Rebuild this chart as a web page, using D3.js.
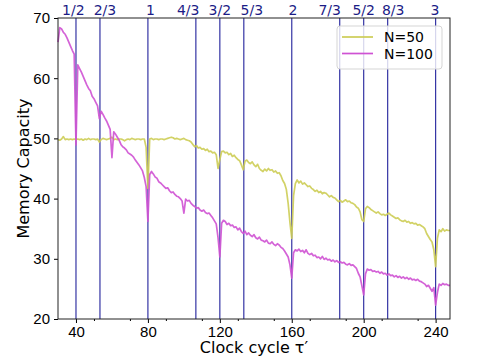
<!DOCTYPE html>
<html lang="en">
<head>
<meta charset="UTF-8">
<title>Memory Capacity vs Clock cycle</title>
<style>
    body { margin: 0; background: #fff; }
    svg { display: block; font-family: "DejaVu Sans", sans-serif; }
</style>
<script src="https://d3js.org/d3.v7.min.js"></script>
</head>
<body>
<div id="chart"></div>
<script>
// clock cycles 30..248, one value per cycle
const tau = d3.range(30, 249);

const capN100 = [
    66.0, 68.4, 68.2, 67.6, 67.3, 66.7, 66.0, 65.3, 64.6, 64.0,
    48.9, 62.2, 61.6, 61.0, 60.3, 59.6, 58.9, 58.3, 57.9, 57.0,
    56.6, 56.0, 55.4, 53.3, 54.5, 54.0, 53.4, 52.9, 52.2, 51.5,
    46.8, 51.1, 50.7, 50.2, 49.7, 49.0, 48.6, 48.4, 48.1, 47.6,
    47.4, 47.2, 46.9, 46.4, 46.0, 45.6, 45.1, 44.6, 43.5, 42.0,
    36.2, 44.0, 44.5, 44.1, 43.6, 43.4, 42.8, 42.6, 42.3, 42.0,
    41.7, 41.8, 41.3, 41.0, 41.1, 40.7, 40.4, 40.3, 40.0, 39.6,
    37.6, 39.9, 39.6, 39.7, 39.2, 38.9, 38.7, 38.4, 38.5, 38.1,
    37.9, 38.1, 37.7, 37.5, 37.6, 37.2, 36.8, 36.3, 35.8, 33.5,
    30.3, 35.9, 36.4, 36.2, 35.7, 35.9, 35.5, 35.6, 35.2, 35.3,
    34.8, 35.1, 34.5, 34.2, 34.6, 34.0, 34.3, 33.9, 33.7, 34.0,
    33.5, 33.3, 33.6, 33.1, 33.0, 32.8, 33.1, 32.6, 32.5, 32.8,
    32.4, 32.2, 32.5, 32.3, 31.9, 31.7, 31.3, 30.8, 30.3, 29.0,
    26.8, 31.0, 31.5, 31.3, 31.6, 31.2, 31.4, 31.0, 31.5, 30.9,
    30.7, 30.9, 30.5, 30.6, 30.2, 30.3, 30.0, 30.4, 29.9, 30.1,
    29.8, 29.9, 29.6, 29.8, 29.5, 29.7, 29.4, 29.5, 29.3, 29.4,
    29.1, 29.0, 29.2, 28.9, 29.0, 28.7, 28.4, 27.6, 27.0, 25.5,
    24.0, 27.5, 28.3, 28.1, 28.2, 27.9, 28.0, 27.8, 27.9, 27.6,
    27.8, 27.5, 27.6, 27.3, 27.5, 27.2, 27.3, 27.0, 27.2, 26.9,
    27.1, 26.8, 27.0, 26.7, 26.9, 26.6, 26.8, 26.5, 26.6, 26.4,
    26.6, 26.3, 26.2, 26.0, 25.8, 25.4, 25.6, 25.1, 24.6, 25.2,
    22.3, 24.4, 25.8, 25.6, 25.9, 25.7, 25.8, 25.6, 25.6
];

const capN50 = [
    49.8, 49.7, 49.9, 50.3, 49.8, 49.9, 49.8, 49.9, 49.8, 49.9,
    49.8, 49.9, 49.8, 49.9, 49.7, 49.9, 49.8, 50.0, 49.8, 49.9,
    49.9, 49.8, 49.9, 49.4, 49.8, 50.0, 49.9, 49.8, 49.9, 50.0,
    50.2, 49.8, 49.9, 49.8, 49.9, 49.9, 49.8, 49.6, 49.8, 49.9,
    49.8, 50.0, 49.9, 49.8, 49.9, 49.9, 49.8, 49.9, 49.9, 48.5,
    41.7, 49.9, 50.0, 49.8, 49.9, 49.9, 49.8, 49.9, 49.9, 49.8,
    49.9, 50.0, 50.1, 50.2, 50.1, 49.9, 50.0, 49.9, 49.8, 49.9,
    50.0, 49.8, 49.7, 49.6, 49.4, 49.0, 48.6, 48.8, 48.4, 48.5,
    48.2, 48.3, 48.0, 48.2, 47.8, 47.9, 47.6, 47.7, 47.3, 45.0,
    46.5, 47.8, 47.9, 47.6, 47.7, 47.3, 47.5, 47.0, 47.2, 46.8,
    46.5, 46.3, 45.6, 44.8, 46.2, 46.4, 46.0, 45.8, 46.1, 45.6,
    45.3, 45.7, 45.0, 44.7, 44.5, 44.9, 44.6, 45.0, 44.7, 44.8,
    44.4, 44.6, 44.2, 44.3, 43.8, 43.0, 42.5, 41.5, 39.2, 36.0,
    33.4, 40.5, 42.5, 43.1, 42.6, 42.9, 42.4, 42.6, 42.3, 42.0,
    42.1, 41.7, 41.5, 41.2, 41.4, 41.0, 41.2, 40.8, 41.0, 40.9,
    40.6, 40.3, 40.5, 40.2, 40.1, 39.8, 39.5, 39.7, 39.4, 39.6,
    39.8, 39.5, 39.6, 39.3, 39.2, 39.0, 38.6, 38.4, 37.8, 36.5,
    36.2, 38.3, 38.7, 38.5, 38.2, 38.0, 37.8, 37.6, 37.8, 37.5,
    37.3, 37.4, 37.2, 37.4, 37.6, 37.3, 37.1, 36.9, 36.7, 36.8,
    36.5, 36.3, 36.2, 36.4, 36.1, 36.2, 35.9, 36.0, 35.8, 35.9,
    35.6, 35.7, 35.5, 35.3, 35.0, 34.2, 33.7, 33.2, 32.8, 31.5,
    28.7, 33.4, 34.8, 34.5, 35.0, 34.6, 34.8, 34.7, 34.7
];

// resonance markers: tau / 80
const ratioLabels = ["1/2", "2/3", "1", "4/3", "3/2", "5/3", "2", "7/3", "5/2", "8/3", "3"];
const ratioValues = [1/2, 2/3, 1, 4/3, 3/2, 5/3, 2, 7/3, 5/2, 8/3, 3];
// where the labels sit along the top (they are nudged apart, not centred on the lines)
const labelTau = [38.5, 56.1, 81.4, 102.4, 120, 137.8, 160.7, 181.1, 200, 216.4, 239.6];
const basePeriod = 80;

const xTicks = [40, 80, 120, 160, 200, 240];
const xMinorTicks = [50, 70, 90, 110, 130, 150, 170, 190, 210, 230];
const yTicks = [20, 30, 40, 50, 60, 70];

const seriesNames = ["N=50", "N=100"];
const seriesColors = ["#cdcd55", "#cf52d3"];

const width = 489, height = 358;
const margin = { top: 18, right: 39, bottom: 39, left: 58 };

const svg = d3.select("#chart").append("svg")
    .attr("width", width)
    .attr("height", height);

const x = d3.scaleLinear()
    .domain([30, 248])
    .range([margin.left, width - margin.right]);

const y = d3.scaleLinear()
    .domain([20, 70])
    .range([height - margin.bottom, margin.top]);

// vertical resonance lines
svg.append("g")
    .selectAll("line")
    .data(ratioValues)
    .enter().append("line")
    .attr("x1", d => x(d * basePeriod))
    .attr("x2", d => x(d * basePeriod))
    .attr("y1", y(70))
    .attr("y2", y(20))
    .attr("stroke", "#3434a4")
    .attr("stroke-width", 1.2);

svg.append("g")
    .selectAll("text")
    .data(labelTau)
    .enter().append("text")
    .attr("x", d => x(d))
    .attr("y", margin.top - 3)
    .attr("text-anchor", "middle")
    .attr("font-size", "14px")
    .attr("fill", "#1c1c86")
    .text((d, i) => ratioLabels[i]);

// curves
const line = d3.line()
    .x((d, i) => x(tau[i]))
    .y(d => y(d));

[capN50, capN100].forEach((vals, k) => {
    svg.append("path")
        .datum(vals)
        .attr("fill", "none")
        .attr("stroke", seriesColors[k])
        .attr("stroke-width", 1.7)
        .attr("stroke-linejoin", "round")
        .attr("opacity", 0.9)
        .attr("d", line);
});

// axes
const xAxis = svg.append("g")
    .attr("transform", `translate(0,${height - margin.bottom})`)
    .call(d3.axisBottom(x).tickValues(xTicks).tickSize(4).tickPadding(3));
xAxis.select(".domain").remove();
xAxis.selectAll("text").attr("font-size", "15px").attr("fill", "#000");

svg.append("g")
    .attr("transform", `translate(0,${height - margin.bottom})`)
    .call(d3.axisBottom(x).tickValues(xMinorTicks).tickSize(2).tickFormat(""))
    .select(".domain").remove();

const yAxis = svg.append("g")
    .attr("transform", `translate(${margin.left},0)`)
    .call(d3.axisLeft(y).tickValues(yTicks).tickSize(4).tickPadding(4));
yAxis.select(".domain").remove();
yAxis.selectAll("text").attr("font-size", "15px").attr("fill", "#000");

// frame
svg.append("rect")
    .attr("x", margin.left)
    .attr("y", margin.top)
    .attr("width", width - margin.left - margin.right)
    .attr("height", height - margin.top - margin.bottom)
    .attr("fill", "none")
    .attr("stroke", "#222")
    .attr("stroke-width", 1);

// axis labels
svg.append("text")
    .attr("x", (margin.left + width - margin.right) / 2)
    .attr("y", height - 5)
    .attr("text-anchor", "middle")
    .attr("font-size", "16px")
    .text("Clock cycle \u03c4\u2032");

svg.append("text")
    .attr("transform", `translate(29,${(margin.top + height - margin.bottom) / 2}) rotate(-90)`)
    .attr("text-anchor", "middle")
    .attr("font-size", "16px")
    .text("Memory Capacity");

// legend
const legend = svg.append("g").attr("transform", "translate(337,26)");
legend.append("rect")
    .attr("width", 105)
    .attr("height", 43)
    .attr("rx", 3)
    .attr("fill", "#fff")
    .attr("fill-opacity", 0.8)
    .attr("stroke", "#d5d5d5");

seriesNames.forEach((name, i) => {
    const ly = 11 + i * 16.5;
    legend.append("line")
        .attr("x1", 5).attr("x2", 36)
        .attr("y1", ly).attr("y2", ly)
        .attr("stroke", seriesColors[i])
        .attr("stroke-width", 1.7);
    legend.append("text")
        .attr("x", 47)
        .attr("y", ly + 5)
        .attr("font-size", "14px")
        .text(name);
});
</script>
</body>
</html>
